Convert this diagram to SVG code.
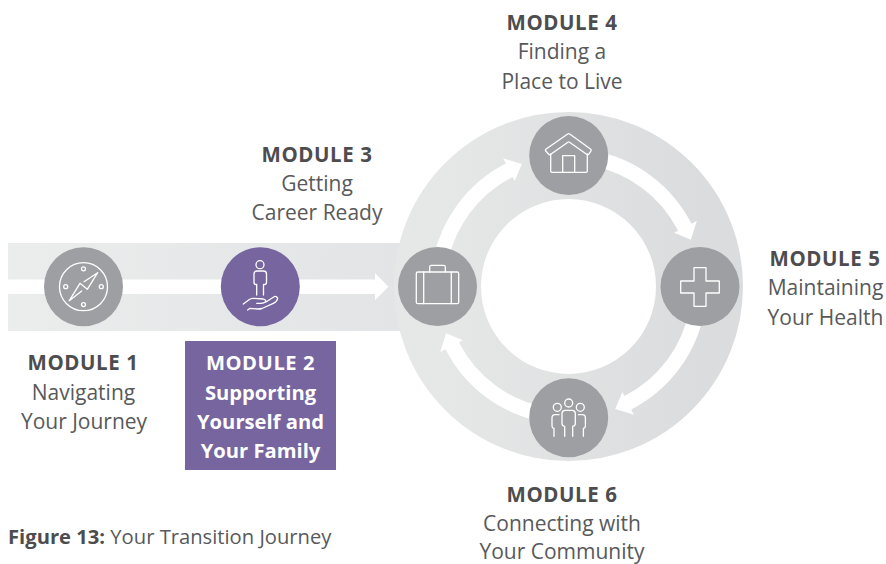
<svg xmlns="http://www.w3.org/2000/svg" xmlns:xlink="http://www.w3.org/1999/xlink" width="886" height="564" viewBox="0 0 886 564">
<style>
text{font-family:"Open Sans","Noto Sans","Liberation Sans",sans-serif;font-size:21px;fill:#58595b;text-anchor:middle}
.b{font-weight:700;fill:#4d4d4f}
.m{font-size:20.5px;letter-spacing:.55px}
.w{font-weight:700;fill:#fff;font-size:20.2px}
.g{fill:#9d9fa2}
.p{fill:#76659f}
.i{fill:none;stroke:#fff;stroke-width:1.3;stroke-linejoin:round;stroke-linecap:round}
.a{fill:#fff}
</style>
<defs>
<linearGradient id="bandG" x1="0" x2="1" y1="0" y2="0"><stop offset="0" stop-color="#ebecec"/><stop offset="1" stop-color="#e3e4e5"/></linearGradient>
<linearGradient id="ringG" x1="0" x2="1" y1="0" y2="0"><stop offset="0" stop-color="#e6e7e7"/><stop offset="1" stop-color="#dbdcdd"/></linearGradient>
<path id="ringArrow" class="a" d="M23.96,-135.9 A138,138 0 0 1 123,-62.7 L128.3,-65.4 L122.4,-46.7 L105.6,-53.8 L109.6,-55.8 A123,123 0 0 0 21.4,-121.1 Z"/>
</defs>
<rect width="886" height="564" fill="#fff"/>
<g id="connectors">
<rect x="8" y="243" width="392" height="88" fill="url(#bandG)"/>
<circle cx="568.5" cy="286.5" r="131" fill="none" stroke="url(#ringG)" stroke-width="87"/>
<path class="a" d="M8,279.5 H375 V273 L388.5,286.7 L375,300 V294 H8 Z"/>
<g transform="translate(568.5,286.5)">
<use href="#ringArrow"/>
<use href="#ringArrow" transform="rotate(90)"/>
<use href="#ringArrow" transform="rotate(180)"/>
<use href="#ringArrow" transform="rotate(270)"/>
</g>
</g>
<g id="module1">
<circle class="g" cx="83.5" cy="286.7" r="39.5"/>
<g class="i">
<circle cx="83.5" cy="286.7" r="24"/>
<circle cx="83.5" cy="268.8" r="2"/><circle cx="83.5" cy="304.6" r="2"/><circle cx="65.7" cy="286.7" r="2"/><circle cx="101.3" cy="286.7" r="2"/>
<path d="M84,281.7 L97.7,272.7 L87.3,289.3 L80,283.3 L69.3,300.7 L81.7,291"/>
</g>
<text class="b m" x="83" y="370">MODULE 1</text>
<text x="83.5" y="400">Navigating</text>
<text x="84" y="428.5">Your Journey</text>
</g>
<g id="module2">
<circle class="p" cx="260.3" cy="286.7" r="39.5"/>
<g class="i">
<circle cx="260" cy="264.7" r="4"/>
<path d="M256.7,295 V284.5 H256 Q254,284.5 254,282.5 V274 Q254,271 257,271 H263.5 Q266.5,271 266.5,274 V282.5 Q266.5,284.5 264.5,284.5 H263.5 V295"/>
<path d="M243.3,304 L249,299.8 Q251,298.3 253,298.4 L263.3,299 Q266.3,300 265.7,301.7 Q264,303.3 261,303.4 L256.7,303.3"/>
<path d="M266,302 L274.5,296.5 Q276.5,295.8 277.7,298.3 Q277,301.5 273.3,303.3 L262,308.5 Q260,309 258,309 L250,308.3 L247.7,310"/>
</g>
<rect class="p" x="185" y="341" width="151" height="129"/>
<text class="w m" x="260.5" y="370">MODULE 2</text>
<text class="w" x="260.5" y="399.5">Supporting</text>
<text class="w" x="260.5" y="428.5">Yourself and</text>
<text class="w" x="260.5" y="457.5">Your Family</text>
</g>
<g id="module3">
<circle class="g" cx="437.5" cy="286.5" r="39.5"/>
<g class="i">
<rect x="416.3" y="272" width="42.4" height="31.7" rx="1.5"/>
<path d="M423.7,272 V303.7 M451.3,272 V303.7"/>
<path d="M429.7,272 V267 Q429.7,265.3 431.4,265.3 H443.6 Q445.3,265.3 445.3,267 V272"/>
</g>
<text class="b m" x="317" y="162">MODULE 3</text>
<text x="317" y="191">Getting</text>
<text x="317" y="220">Career Ready</text>
</g>
<g id="module4">
<circle class="g" cx="568.7" cy="155.5" r="39.5"/>
<g class="i">
<path d="M567.7,134 Q568.7,133.3 569.7,134 L590.8,149.3 Q591.6,150 591,150.8 L588.8,154.2 Q588,155.2 587,154.5 L569.5,142.2 Q568.7,141.7 567.9,142.2 L550.4,154.5 Q549.4,155.2 548.6,154.2 L545.6,150.8 Q545,150 545.8,149.3 Z"/>
<path d="M550.7,154 V171 Q550.7,172.3 552,172.3 H586 Q587.3,172.3 587.3,171 V154"/>
<path d="M562.7,172.3 V155.7 H574.7 V172.3"/>
</g>
<text class="b m" x="562" y="30">MODULE 4</text>
<text x="562" y="59">Finding a</text>
<text x="562" y="89">Place to Live</text>
</g>
<g id="module5">
<circle class="g" cx="700" cy="286.5" r="39.5"/>
<path class="i" d="M694,267.7 H706 V281 H719.3 V293 H706 V306.3 H694 V293 H680.7 V281 H694 Z"/>
<text class="b m" x="825" y="266">MODULE 5</text>
<text x="825.5" y="295">Maintaining</text>
<text x="825.5" y="325">Your Health</text>
</g>
<g id="module6">
<circle class="g" cx="568.7" cy="417.7" r="39.5"/>
<g class="i">
<circle cx="568.7" cy="403" r="4"/><circle cx="557.3" cy="407.3" r="4"/><circle cx="580.3" cy="407.3" r="4"/>
<path d="M564.7,436.3 V426.3 Q562,426 562,423.5 V413.5 Q562,410.3 565,410.3 H572.3 Q575.3,410.3 575.3,413.5 V423.5 Q575.3,426 572.7,426.3 V436.3"/>
<path d="M559,414.7 H555 Q552,414.7 552,418 V426 Q552,428 554,428.5 V436.3"/>
<path d="M578.4,414.7 H582.4 Q585.4,414.7 585.4,418 V426 Q585.4,428 583.4,428.5 V436.3"/>
</g>
<text class="b m" x="562" y="502">MODULE 6</text>
<text x="562" y="531">Connecting with</text>
<text x="562" y="558.5">Your Community</text>
</g>
<text x="8" y="544" style="text-anchor:start;font-size:20.2px"><tspan class="b">Figure 13:</tspan> Your Transition Journey</text>
</svg>
